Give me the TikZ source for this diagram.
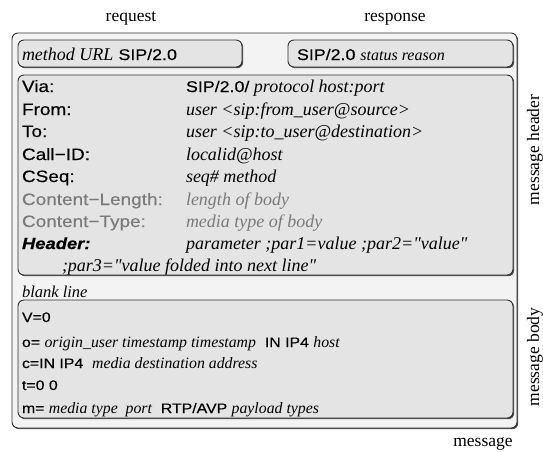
\documentclass[tikz,border=0pt]{standalone}
\usepackage{fontspec}
\setmainfont[Ligatures=TeXOff]{Liberation Serif}
\setsansfont[FakeStretch=1.15, FakeBold=0.3]{Liberation Sans}
\usetikzlibrary{shadows}
\definecolor{outerfill}{HTML}{F3F3F3}
\definecolor{innerfill}{HTML}{E4E4E4}
\definecolor{edge}{HTML}{303030}
\definecolor{faint}{HTML}{7A7A7A}
\tikzset{
  box/.style={draw=edge, line width=0.9pt, rounded corners=6pt,
    drop shadow={shadow xshift=1.2pt, shadow yshift=-1.2pt, fill=black!70, opacity=1}},
  outerbox/.style={box, fill=outerfill},
  innerbox/.style={box, fill=innerfill},
  txt/.style={anchor=base west, inner sep=0pt, outer sep=0pt},
  fieldname/.style={txt, font=\sffamily\fontsize{16.5}{16.5}\selectfont},
  fieldval/.style={txt, font=\rmfamily\itshape\fontsize{18}{18}\selectfont},
  bodyline/.style={txt, font=\sffamily\fontsize{13.8}{13.8}\selectfont},
  caption/.style={inner sep=0pt, anchor=base, font=\rmfamily\fontsize{17.5}{17.5}\selectfont},
}
\newcommand{\bi}[1]{{\rmfamily\itshape\fontsize{15.8}{15.8}\selectfont #1}}
\begin{document}
\begin{tikzpicture}[x=1pt, y=-1pt]
\useasboundingbox (0,0) rectangle (543,451);

% top captions
\node[caption] (req) at (131,21) {request};
\node[caption] (resp) at (395,21) {response};

% whole message
\draw[outerbox] (12,33) rectangle (517,428);

% start lines
\draw[innerbox] (18,40) rectangle (242,67);
\draw[innerbox] (288,40) rectangle (513,67);
\node[txt] (reqline) at (22,60) {{\rmfamily\itshape\fontsize{18}{18}\selectfont method URL}\ \ {\sffamily\fontsize{15.5}{15.5}\selectfont SIP/2.0}};
\node[txt] (respline) at (297,60) {{\sffamily\fontsize{15.5}{15.5}\selectfont SIP/2.0}\ \ {\rmfamily\itshape\fontsize{16}{16}\selectfont status reason}};

% header fields
\draw[innerbox] (18,75) rectangle (513,275);
\node[fieldname] (via) at (22,92) {Via:};
\node[fieldname] (from) at (22,115) {From:};
\node[fieldname] (to) at (22,137) {To:};
\node[fieldname] (callid) at (22,160) {Call{\char"2212}ID:};
\node[fieldname] (cseq) at (22,182) {CSeq:};
\node[fieldname, text=faint] (clen) at (22,205) {Content{\char"2212}Length:};
\node[fieldname, text=faint] (ctype) at (22,227) {Content{\char"2212}Type:};
\node[fieldname, font=\sffamily\bfseries\itshape\fontsize{16}{16}\selectfont] (hdr) at (22,249) {Header:};

\node[fieldval] (viav) at (186,92) {{\sffamily\upshape\fontsize{15.5}{15.5}\selectfont SIP/2.0/} protocol host:port};
\node[fieldval] (fromv) at (186,115) {user <sip:from\_user@source>};
\node[fieldval] (tov) at (186,137) {user <sip:to\_user@destination>};
\node[fieldval] (callidv) at (186,160) {localid@host};
\node[fieldval] (cseqv) at (186,182) {seq\# method};
\node[fieldval, text=faint] (clenv) at (186,205) {length of body};
\node[fieldval, text=faint] (ctypev) at (186,227) {media type of body};
\node[fieldval] (hdrv) at (186,249) {parameter ;par1=value ;par2="value"};
\node[fieldval] (hdrv2) at (62,271) {;par3="value folded into next line"};

% separator and body
\node[fieldval, font=\rmfamily\itshape\fontsize{16.5}{16.5}\selectfont] (blank) at (22,297) {blank line};
\draw[innerbox] (18,300) rectangle (513,418);
\node[bodyline] (bv) at (22,322) {V=0};
\node[bodyline] (bo) at (22,347) {o= \bi{origin\_user timestamp timestamp}\ \ IN IP4 \bi{host}};
\node[bodyline] (bc) at (22,368) {c=IN IP4\ \ \bi{media destination address}};
\node[bodyline] (bt) at (22,390) {t=0 0};
\node[bodyline] (bm) at (22,413) {m= \bi{media type\ \ port}\ \ RTP/AVP \bi{payload types}};

% side captions
\node[caption, rotate=90, anchor=center] (mh) at (535,150) {message header};
\node[caption, rotate=90, anchor=center] (mb) at (535,357) {message body};
\node[caption] (msg) at (483,446) {message};
\end{tikzpicture}
\end{document}
